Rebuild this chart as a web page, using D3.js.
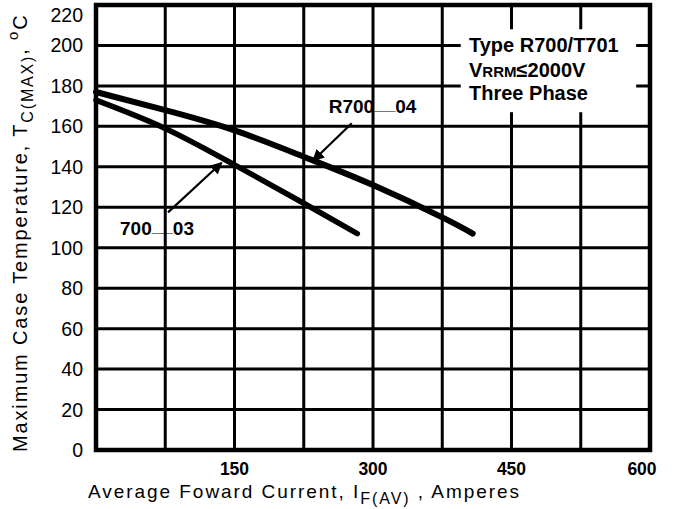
<!DOCTYPE html>
<html>
<head>
<meta charset="utf-8">
<script src="https://cdn.jsdelivr.net/npm/d3@7"></script>
<style>
  html, body { margin: 0; padding: 0; background: #fff; }
  svg { display: block; }
  text { font-family: "Liberation Sans", Arial, Helvetica, sans-serif; fill: #000; }
</style>
</head>
<body>
<svg id="chart" width="676" height="509"></svg>
<script>
// ---- data ----
const xGrid = [0, 75, 150, 225, 300, 375, 450, 525, 600];
const xTickLabels = [150, 300, 450, 600];
const yTicks = [0, 20, 40, 60, 80, 100, 120, 140, 160, 180, 200, 220];

const currentR700_04 = [0, 75, 150, 225, 300, 375, 408];
const tempR700_04   = [177, 168, 158, 145, 131, 115, 107];

const current700_03 = [0, 75, 150, 225, 283];
const temp700_03    = [173, 159, 141, 122, 107];

const legendLines = ["Type R700/T701", "VRRM\u22642000V", "Three Phase"];

// ---- layout ----
const svg = d3.select("#chart");
const pLeft = 96, pRight = 650, pTop = 5, pBottom = 450;
const x = d3.scaleLinear().domain([0, 600]).range([pLeft, pRight]);
const y = d3.scaleLinear().domain([0, 220]).range([pBottom, pTop]);

// grid
const g = svg.append("g");
g.selectAll("line.v").data(xGrid).enter().append("line")
  .attr("x1", d => x(d)).attr("x2", d => x(d))
  .attr("y1", pTop).attr("y2", pBottom)
  .attr("stroke", "#000").attr("stroke-width", 3);
g.selectAll("line.h").data(yTicks).enter().append("line")
  .attr("x1", pLeft).attr("x2", pRight)
  .attr("y1", d => y(d)).attr("y2", d => y(d))
  .attr("stroke", "#000").attr("stroke-width", 3);

// legend white box (interrupts grid)
svg.append("rect")
  .attr("x", x(395)).attr("y", y(208))
  .attr("width", x(585) - x(395)).attr("height", y(167) - y(208))
  .attr("fill", "#fff");

// frame
svg.append("rect")
  .attr("x", pLeft).attr("y", pTop)
  .attr("width", pRight - pLeft).attr("height", pBottom - pTop)
  .attr("fill", "none").attr("stroke", "#000").attr("stroke-width", 4.5);

// y tick labels
svg.append("g").selectAll("text").data(yTicks).enter().append("text")
  .attr("x", 83)
  .attr("y", d => d === 220 ? y(d) + 17 : y(d) + 7)
  .attr("text-anchor", "end")
  .attr("font-size", 19.5)
  .text(d => d);

// x tick labels
svg.append("g").selectAll("text").data(xTickLabels).enter().append("text")
  .attr("x", d => d === 600 ? x(d) - 8 : x(d))
  .attr("y", 475)
  .attr("text-anchor", "middle")
  .attr("font-size", 17.5)
  .attr("font-weight", "bold")
  .text(d => d);

// curves
const line = d3.line().x(d => x(d[0])).y(d => y(d[1])).curve(d3.curveNatural);
svg.append("path")
  .datum(d3.zip(currentR700_04, tempR700_04))
  .attr("d", line).attr("fill", "none").attr("stroke", "#000")
  .attr("stroke-width", 6).attr("stroke-linecap", "round");
svg.append("path")
  .datum(d3.zip(current700_03, temp700_03))
  .attr("d", line).attr("fill", "none").attr("stroke", "#000")
  .attr("stroke-width", 5.5).attr("stroke-linecap", "round");

// arrow marker
svg.append("defs").append("marker")
  .attr("id", "arr").attr("viewBox", "0 0 10 10")
  .attr("refX", 9).attr("refY", 5)
  .attr("markerWidth", 12).attr("markerHeight", 12)
  .attr("markerUnits", "userSpaceOnUse")
  .attr("orient", "auto")
  .append("path").attr("d", "M0,0 L10,5 L0,10 z").attr("fill", "#000");

// annotations
const annotations = [
  { pre: "700", post: "03", lx: 26, ly: 106.5, from: [78, 117.5], to: [136, 142] },
  { pre: "R700", post: "04", lx: 252, ly: 166.5, from: [277, 161.5], to: [235, 143] }
];
annotations.forEach(a => {
  svg.append("line")
    .attr("x1", x(a.from[0])).attr("y1", y(a.from[1]))
    .attr("x2", x(a.to[0])).attr("y2", y(a.to[1]))
    .attr("stroke", "#000").attr("stroke-width", 2.2)
    .attr("marker-end", "url(#arr)");
  const t = svg.append("text")
    .attr("x", x(a.lx)).attr("y", y(a.ly))
    .attr("font-size", 19).attr("font-weight", "bold");
  t.append("tspan").text(a.pre);
  t.append("tspan").attr("dy", -3).text("__");
  t.append("tspan").attr("dy", 3).text(a.post);
});

// legend text
const lg = svg.append("g");
lg.append("text").attr("x", x(404)).attr("y", 52)
  .attr("font-size", 20).attr("font-weight", "bold").text(legendLines[0]);
const l2 = lg.append("text").attr("x", x(404)).attr("y", 77)
  .attr("font-size", 20).attr("font-weight", "bold");
l2.append("tspan").text("V");
l2.append("tspan").attr("font-size", 15).text("RRM");
l2.append("tspan").text("\u2264");
l2.append("tspan").text("2000V");
lg.append("text").attr("x", x(404)).attr("y", 100)
  .attr("font-size", 20).attr("font-weight", "bold").text(legendLines[2]);

// x axis title
const xt = svg.append("text").attr("x", 88).attr("y", 498)
  .attr("font-size", 19).attr("letter-spacing", 1.95);
xt.append("tspan").text("Average Foward Current, I");
xt.append("tspan").attr("font-size", 16).attr("dy", 6).text("F(AV)");
xt.append("tspan").attr("dy", -6).text(" , Amperes");

// y axis title
const yt = svg.append("text")
  .attr("transform", "translate(27,452) rotate(-90)")
  .attr("font-size", 20).attr("letter-spacing", 1.85);
yt.append("tspan").text("Maximum Case Temperature, T");
yt.append("tspan").attr("font-size", 16).attr("dy", 6).text("C(MAX)");
yt.append("tspan").attr("dy", -6).text(", ");
yt.append("tspan").attr("font-size", 15).attr("dy", -9).text("o");
yt.append("tspan").attr("dy", 9).text("C");
</script>
</body>
</html>
